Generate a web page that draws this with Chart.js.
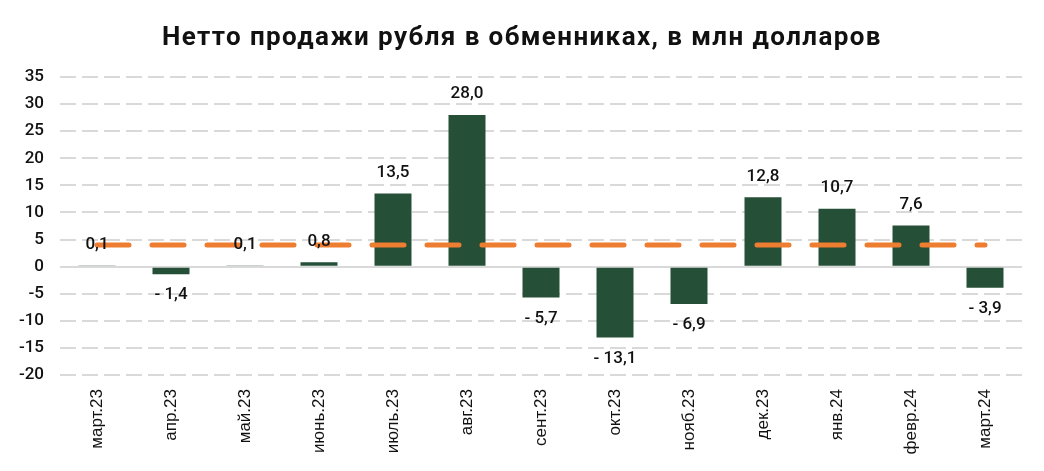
<!DOCTYPE html>
<html>
<head>
<meta charset="utf-8">
<script src="https://cdn.jsdelivr.net/npm/chart.js@4"></script>
<style>
  html, body { margin: 0; padding: 0; background: #fff; }
  #wrap { width: 1044px; height: 471px; }
</style>
</head>
<body>
<div id="wrap"><canvas id="chart"></canvas></div>
<script>
// данные
const months = ['март.23', 'апр.23', 'май.23', 'июнь.23', 'июль.23', 'авг.23', 'сент.23',
  'окт.23', 'нояб.23', 'дек.23', 'янв.24', 'февр.24', 'март.24'];
const netSales = [0.1, -1.4, 0.1, 0.8, 13.5, 28.0, -5.7, -13.1, -6.9, 12.8, 10.7, 7.6, -3.9];
const avgLevel = [4, 4, 4, 4, 4, 4, 4, 4, 4, 4, 4, 4, 4];
const yTicks = [35, 30, 25, 20, 15, 10, 5, 0, -5, -10, -15, -20];
const titleText = 'Нетто продажи рубля в обменниках, в млн долларов';

const green = '#264f37';
const orange = '#ed7d31';
const gridGray = '#d9d9d9';

// заголовок с разрядкой
const titlePlugin = {
  id: 'spacedTitle',
  afterDraw(chart) {
    const ctx = chart.ctx;
    ctx.save();
    ctx.font = 'bold 26px Roboto';
    ctx.letterSpacing = '1.4px';
    ctx.fillStyle = '#111';
    ctx.textAlign = 'center';
    ctx.textBaseline = 'middle';
    ctx.fillText(titleText, chart.width / 2, 38);
    ctx.restore();
  }
};

// сплошная линия нуля
const zeroLine = {
  id: 'zeroLine',
  beforeDatasetsDraw(chart) {
    const ctx = chart.ctx;
    const y = Math.round(chart.scales.y.getPixelForValue(0));
    ctx.save();
    ctx.strokeStyle = gridGray;
    ctx.lineWidth = 2;
    ctx.beginPath();
    ctx.moveTo(chart.chartArea.left, y);
    ctx.lineTo(chart.chartArea.right, y);
    ctx.stroke();
    ctx.restore();
  }
};

// подписи над/под столбцами
const barLabels = {
  id: 'barLabels',
  afterDatasetsDraw(chart) {
    const ctx = chart.ctx;
    const meta = chart.getDatasetMeta(0);
    ctx.save();
    ctx.font = '500 17px Roboto';
    ctx.fillStyle = '#111';
    ctx.textAlign = 'center';
    ctx.textBaseline = 'middle';
    meta.data.forEach((bar, i) => {
      const v = netSales[i];
      const txt = v < 0
        ? '- ' + Math.abs(v).toFixed(1).replace('.', ',')
        : v.toFixed(1).replace('.', ',');
      const y = v < 0 ? bar.y + 21 : bar.y - 21;
      ctx.fillText(txt, bar.x, y);
    });
    ctx.restore();
  }
};

const ctx = document.getElementById('chart').getContext('2d');
new Chart(ctx, {
  type: 'bar',
  data: {
    labels: months,
    datasets: [{
      type: 'bar',
      data: netSales,
      backgroundColor: green,
      barPercentage: 0.5,
      categoryPercentage: 1,
      order: 2
    }, {
      type: 'line',
      data: avgLevel,
      borderColor: orange,
      borderWidth: 5,
      borderDash: [32, 23],
      borderCapStyle: 'round',
      pointRadius: 0,
      fill: false,
      order: 1
    }]
  },
  options: {
    responsive: true,
    maintainAspectRatio: false,
    animation: false,
    layout: { padding: { top: 77, right: 22, bottom: 0, left: 0 } },
    plugins: {
      legend: { display: false },
      tooltip: { enabled: false },
      title: { display: false }
    },
    scales: {
      x: {
        grid: { display: false },
        border: { display: false },
        ticks: {
          color: '#111',
          maxRotation: 90,
          minRotation: 90,
          padding: 6,
          font: { family: 'Liberation Sans', size: 17 }
        },
        afterFit(scale) { scale.height = 96; }
      },
      y: {
        min: -20,
        max: 35,
        afterBuildTicks(scale) { scale.ticks = yTicks.map(v => ({ value: v })); },
        border: { display: false, dash: [16, 6] },
        grid: {
          color: c => c.tick && c.tick.value === 0 ? 'rgba(0,0,0,0)' : gridGray,
          lineWidth: 2,
          drawTicks: false
        },
        ticks: {
          color: '#111',
          padding: 16,
          font: { family: 'Roboto', size: 17, weight: '500' }
        },
        afterFit(scale) { scale.width = 60; }
      }
    }
  },
  plugins: [zeroLine, barLabels, titlePlugin]
});
</script>
</body>
</html>
